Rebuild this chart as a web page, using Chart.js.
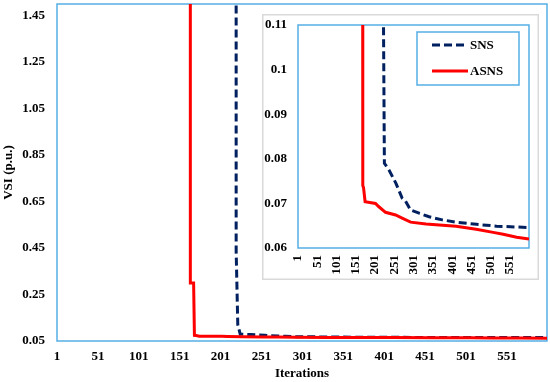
<!DOCTYPE html>
<html>
<head>
<meta charset="utf-8">
<script src="https://cdn.jsdelivr.net/npm/chart.js@4"></script>
<style>
  body { margin: 0; background: #fff; }
  #wrap { position: relative; width: 550px; height: 382px; }
  #main { position: absolute; left: 0; top: 0; }
  #inset { position: absolute; left: 262px; top: 14px; }
</style>
</head>
<body>
<div id="wrap">
  <canvas id="main" width="550" height="382"></canvas>
  <canvas id="inset" width="277" height="266"></canvas>
</div>
<script>
// iterations / VSI values
const iterSNS = [1, 220, 220, 222, 225, 237, 255, 271, 280, 293, 315, 341, 375, 411, 464, 516, 598];
const vsiSNS = [1.6, 1.6, 0.44, 0.12, 0.079, 0.0775, 0.0745, 0.0712, 0.0705, 0.0685, 0.0678, 0.067, 0.0663, 0.0658, 0.0653, 0.0649, 0.0646];

const iterASNS = [1, 164, 164, 168, 169, 171, 175, 202, 210, 228, 254, 271, 293, 333, 411, 463, 507, 533, 568, 600];
const vsiASNS = [1.6, 1.6, 0.30, 0.30, 0.074, 0.0735, 0.0704, 0.070, 0.0693, 0.068, 0.0674, 0.0667, 0.0658, 0.0654, 0.0649, 0.0642, 0.0635, 0.0631, 0.0624, 0.062];

const xTicks = [1, 51, 101, 151, 201, 251, 301, 351, 401, 451, 501, 551];
const yTicksMain = [0.05, 0.25, 0.45, 0.65, 0.85, 1.05, 1.25, 1.45];
const yTicksInset = [0.06, 0.07, 0.08, 0.09, 0.1, 0.11];

const FONT = { family: '"Liberation Serif", "Times New Roman", serif', size: 13, weight: 'bold' };
const FRAME = '#55AEE6';

function pts(xs, ys) {
  return xs.map((x, i) => ({ x: x, y: ys[i] }));
}

function makeDatasets() {
  return [
    {
      label: 'ASNS',
      data: pts(iterASNS, vsiASNS),
      borderColor: '#FF0000',
      borderWidth: 3,
      pointRadius: 0,
      tension: 0,
      order: 0,
    },
    {
      label: 'SNS',
      data: pts(iterSNS, vsiSNS),
      borderColor: '#002060',
      borderWidth: 3,
      borderDash: [8, 4],
      pointRadius: 0,
      tension: 0,
      order: 1,
    },
  ];
}

// drop the extra room chart.js keeps for half-labels at the ends
function noEdgePad(s) {
  s.paddingTop = 0;
  s.paddingBottom = 0;
  s.paddingLeft = 0;
  s.paddingRight = 0;
}

const framePlugin = {
  id: 'frame',
  beforeDatasetsDraw(chart) {
    const a = chart.chartArea;
    const ctx = chart.ctx;
    ctx.save();
    ctx.strokeStyle = FRAME;
    ctx.lineWidth = 1.5;
    ctx.strokeRect(a.left, a.top, a.right - a.left, a.bottom - a.top);
    ctx.restore();
  },
};

new Chart(document.getElementById('main'), {
  type: 'line',
  data: { datasets: makeDatasets() },
  options: {
    responsive: false,
    animation: false,
    layout: { padding: { top: 4, right: 3, left: 0, bottom: 0 } },
    plugins: { legend: { display: false }, tooltip: { enabled: false } },
    scales: {
      x: {
        type: 'linear',
        min: 1,
        max: 600,
        grid: { display: false, drawTicks: false },
        border: { display: false },
        afterBuildTicks: (s) => { s.ticks = xTicks.map((v) => ({ value: v })); },
        afterFit: (s) => { s.height = 41; noEdgePad(s); },
        ticks: { color: '#000', font: FONT, padding: 8, maxRotation: 0, autoSkip: false },
        title: { display: true, text: 'Iterations', color: '#000', font: FONT, padding: { top: 0, bottom: 1 } },
      },
      y: {
        min: 0.05,
        max: 1.5,
        grid: { display: false, drawTicks: false },
        border: { display: false },
        afterBuildTicks: (s) => { s.ticks = yTicksMain.map((v) => ({ value: v })); },
        afterFit: (s) => { s.width = 57; noEdgePad(s); },
        ticks: { color: '#000', font: FONT, padding: 12, callback: (v) => v.toFixed(2) },
        title: { display: true, text: 'VSI (p.u.)', color: '#000', font: FONT, padding: { top: 1, bottom: 0 } },
      },
    },
  },
  plugins: [framePlugin],
});

const insetBox = {
  id: 'insetBox',
  beforeDraw(chart) {
    const ctx = chart.ctx;
    ctx.save();
    ctx.fillStyle = '#fff';
    ctx.fillRect(0, 0, chart.width, chart.height);
    ctx.strokeStyle = '#D9D9D9';
    ctx.lineWidth = 1.5;
    ctx.strokeRect(0.75, 0.75, chart.width - 1.5, chart.height - 1.5);
    ctx.restore();
  },
  afterDraw(chart) {
    // legend box inside the inset
    const ctx = chart.ctx;
    const bx = 155, by = 18, bw = 102, bh = 53;
    ctx.save();
    ctx.fillStyle = '#fff';
    ctx.fillRect(bx, by, bw, bh);
    ctx.strokeStyle = FRAME;
    ctx.lineWidth = 1.5;
    ctx.strokeRect(bx, by, bw, bh);
    ctx.font = 'bold 13px "Liberation Serif", serif';
    ctx.textBaseline = 'middle';
    ctx.fillStyle = '#000';
    const order = [1, 0];
    order.forEach((di, k) => {
      const ds = chart.data.datasets[di];
      const y = by + 13 + k * 26;
      ctx.beginPath();
      ctx.strokeStyle = ds.borderColor;
      ctx.lineWidth = 3;
      ctx.setLineDash(ds.borderDash || []);
      ctx.moveTo(bx + 15, y);
      ctx.lineTo(bx + (ds.borderDash ? 47 : 51), y);
      ctx.stroke();
      ctx.setLineDash([]);
      ctx.fillText(ds.label, bx + 53, y + 1);
    });
    ctx.restore();
  },
};

new Chart(document.getElementById('inset'), {
  type: 'line',
  data: { datasets: makeDatasets() },
  options: {
    responsive: false,
    animation: false,
    layout: { padding: { top: 11, right: 10, left: 0, bottom: 0 } },
    plugins: { legend: { display: false }, tooltip: { enabled: false } },
    scales: {
      x: {
        type: 'linear',
        min: 1,
        max: 600,
        grid: { display: false, drawTicks: false },
        border: { display: false },
        afterBuildTicks: (s) => { s.ticks = xTicks.map((v) => ({ value: v })); },
        afterFit: (s) => { s.height = 32; noEdgePad(s); },
        ticks: { color: '#000', font: FONT, padding: 7, minRotation: 90, maxRotation: 90, autoSkip: false },
      },
      y: {
        min: 0.06,
        max: 0.11,
        grid: { display: false, drawTicks: false },
        border: { display: false },
        afterBuildTicks: (s) => { s.ticks = yTicksInset.map((v) => ({ value: v })); },
        afterFit: (s) => { s.width = 36; noEdgePad(s); },
        ticks: { color: '#000', font: FONT, padding: 11, callback: (v) => String(Number(v.toFixed(2))) },
      },
    },
  },
  plugins: [insetBox, framePlugin],
});
</script>
</body>
</html>
